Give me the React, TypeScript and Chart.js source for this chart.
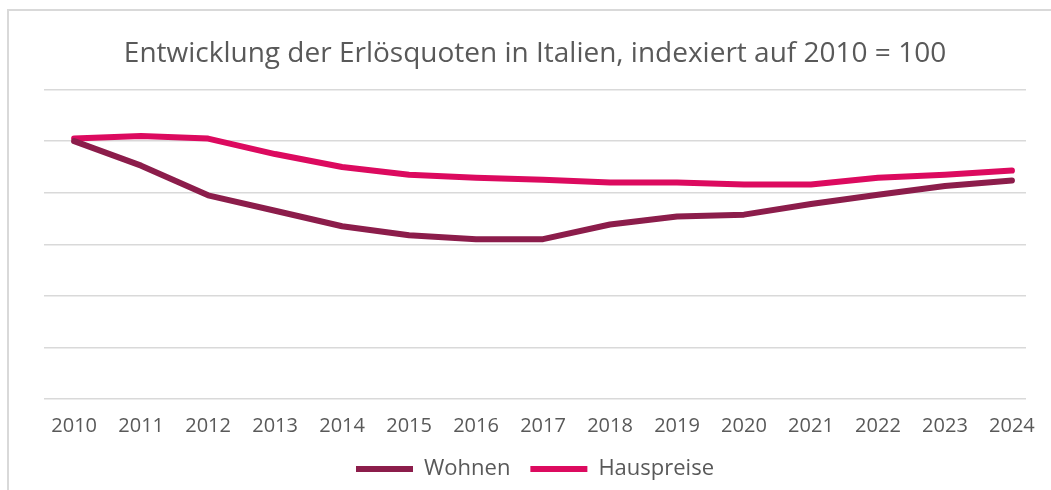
import { useEffect, useRef } from 'react';
import { Chart, registerables } from 'chart.js';

Chart.register(...registerables);

const titleText = 'Entwicklung der Erlösquoten in Italien, indexiert auf 2010 = 100';
const categories = ['2010', '2011', '2012', '2013', '2014', '2015', '2016', '2017', '2018', '2019', '2020', '2021', '2022', '2023', '2024'];
const years = [2010, 2011, 2012, 2013, 2014, 2015, 2016, 2017, 2018, 2019, 2020, 2021, 2022, 2023, 2024];
const wohnen = [100, 90.5, 79, 73, 67, 63.5, 62, 62, 67.7, 70.8, 71.5, 75.6, 79.2, 82.6, 84.7];
const hauspreise = [101, 102, 101, 95, 90, 87, 85.8, 85, 84, 84, 83.2, 83.2, 85.8, 87, 88.6];
const yTicks = [0, 20, 40, 60, 80, 100, 120];

const seriesNames = ['Wohnen', 'Hauspreise'];
const seriesColors = ['#8C1D4B', '#DC0A5F'];

export default function App() {
  const canvasRef = useRef<HTMLCanvasElement | null>(null);

  useEffect(() => {
    if (!canvasRef.current) return;
    Chart.defaults.font.family = "'Open Sans', 'Noto Sans', sans-serif";
    const series = [wohnen, hauspreise];
    const chart = new Chart(canvasRef.current, {
      type: 'line',
      data: {
        datasets: series.map((vals, i) => ({
          label: seriesNames[i],
          data: vals.map((v, j) => ({ x: years[j], y: v })),
          borderColor: seriesColors[i],
          backgroundColor: seriesColors[i],
          borderWidth: 6,
          borderCapStyle: 'round' as const,
          borderJoinStyle: 'round' as const,
          pointRadius: 0,
          pointHoverRadius: 0,
          tension: 0,
          fill: false,
        })),
      },
      options: {
        animation: false,
        responsive: false,
        maintainAspectRatio: false,
        layout: { padding: { left: 44, right: 25, top: 0, bottom: 0 } },
        plugins: {
          title: {
            display: true,
            text: titleText,
            color: '#595959',
            font: { size: 28, weight: 'normal' },
            padding: { top: 37, bottom: 19 },
          },
          legend: {
            display: true,
            position: 'bottom',
            labels: {
              usePointStyle: true,
              pointStyle: 'line',
              pointStyleWidth: 57,
              color: '#595959',
              font: { size: 22 },
              padding: 20,
            },
          },
          tooltip: { enabled: false },
        },
        scales: {
          x: {
            type: 'linear',
            min: 2009.55,
            max: 2024.21,
            grid: { display: false, drawTicks: false },
            border: { display: false },
            afterBuildTicks: (scale: any) => {
              scale.ticks = years.map((v) => ({ value: v }));
            },
            afterFit: (scale: any) => {
              scale.height -= 15;
            },
            ticks: {
              autoSkip: false,
              maxRotation: 0,
              padding: 15,
              color: '#595959',
              font: { size: 20 },
              callback: (v: any) => {
                const idx = years.indexOf(Number(v));
                return idx >= 0 ? categories[idx] : '';
              },
            },
          },
          y: {
            min: yTicks[0],
            max: yTicks[yTicks.length - 1],
            afterBuildTicks: (scale: any) => {
              scale.ticks = yTicks.map((v) => ({ value: v }));
            },
            ticks: { display: false },
            grid: { color: '#d9d9d9', lineWidth: 1.5, drawTicks: false },
            border: { display: false },
          },
        },
      },
    });
    return () => chart.destroy();
  }, []);

  return (
    <div>
      <div
        style={{
          position: 'fixed',
          left: 7,
          top: 9,
          width: 1051 - 7,
          height: 490 - 9,
          borderTop: '2px solid #d9d9d9',
          borderLeft: '2px solid #d9d9d9',
          boxSizing: 'border-box',
        }}
      />
      <canvas
        ref={canvasRef}
        width={1051}
        height={490}
        style={{ position: 'fixed', left: 0, top: 0, width: 1051, height: 490 }}
      />
    </div>
  );
}
